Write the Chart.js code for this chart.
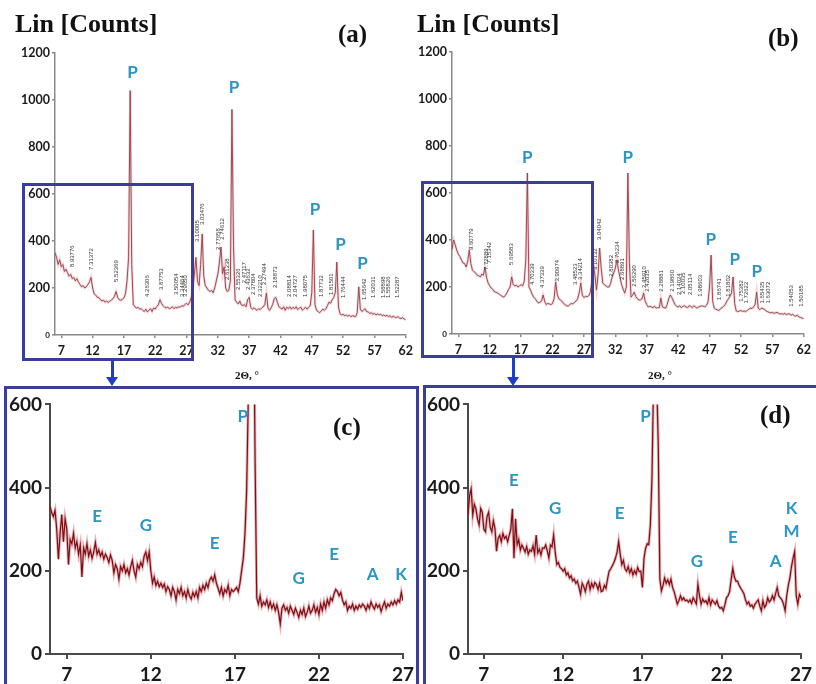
<!DOCTYPE html>
<html>
<head>
<meta charset="utf-8">
<script src="https://cdn.jsdelivr.net/npm/chart.js@4.4.1/dist/chart.umd.min.js"></script>
<style>
  body{margin:0;background:#fff;width:816px;height:684px;overflow:hidden;position:relative}
  canvas{position:absolute}
  .t{position:absolute;font-family:"Liberation Serif",serif;font-weight:bold;color:#111;white-space:nowrap;line-height:1}
  .frame{position:absolute;border:3px solid #3a3d9c;box-sizing:border-box}
  .stem{position:absolute;width:3px;background:#1f3cc4}
  .head{position:absolute;width:0;height:0;border-left:6px solid transparent;border-right:6px solid transparent;border-top:9px solid #1f3cc4}
</style>
</head>
<body>
<canvas id="chartA" width="418" height="384" style="left:0;top:0"></canvas>
<canvas id="chartB" width="416" height="384" style="left:400px;top:0"></canvas>
<canvas id="chartC" width="410" height="294" style="left:8px;top:390px"></canvas>
<canvas id="chartD" width="392" height="294" style="left:424px;top:390px"></canvas>

<div class="t" style="left:15px;top:11px;font-size:26px">Lin [Counts]</div>
<div class="t" style="left:417px;top:11px;font-size:26px">Lin [Counts]</div>
<div class="t" style="left:338px;top:21px;font-size:25px">(a)</div>
<div class="t" style="left:768px;top:25px;font-size:25px">(b)</div>
<div class="t" style="left:333px;top:414px;font-size:25px">(c)</div>
<div class="t" style="left:760px;top:402px;font-size:25px">(d)</div>
<div class="t" style="left:247px;top:370px;font-size:11px;transform:translateX(-50%)">2Θ, °</div>
<div class="t" style="left:660px;top:370px;font-size:11px;transform:translateX(-50%)">2Θ, °</div>

<div class="frame" style="left:22px;top:183px;width:172px;height:178px"></div>
<div class="frame" style="left:421px;top:181px;width:173px;height:177px"></div>
<div class="stem" style="left:111px;top:361px;height:17px"></div>
<div class="head" style="left:106px;top:377px"></div>
<div class="stem" style="left:512px;top:358px;height:20px"></div>
<div class="head" style="left:507px;top:377px"></div>
<div class="frame" style="left:4px;top:386px;width:415px;height:320px"></div>
<div class="frame" style="left:423px;top:385px;width:410px;height:320px"></div>

<script>
// ---- DATOS ----
// patrones (a) y (b): 2theta de 6 a 62, paso 0.25
const startAB = 6;
const stepAB = 0.25;
const countsA = [
  350,330,300,320,290,300,270,280,   // 6
  265,250,258,240,245,230,240,225,   // 8
  215,205,210,200,205,215,225,245,   // 10
  200,175,170,160,160,150,145,148,   // 12
  140,145,138,145,148,155,165,185,   // 14
  160,150,148,152,158,175,230,330,   // 16
  1040,300,130,120,115,118,110,112,  // 18
  105,100,110,98,105,112,100,115,    // 20
  110,122,128,150,135,125,118,115,   // 22
  118,112,115,120,112,118,115,120,   // 24
  118,125,122,130,135,128,140,160,   // 26
  190,260,330,230,210,300,430,250,   // 28
  210,200,190,185,190,180,200,230,   // 30
  260,310,375,260,290,200,185,190,   // 32
  230,960,380,150,140,132,145,128,   // 34
  125,130,120,150,160,118,110,115,   // 36
  110,105,112,108,115,120,130,178,   // 38
  115,105,115,130,155,160,140,120,   // 40
  115,110,120,105,118,112,120,110,   // 42
  118,112,120,108,115,118,105,112,   // 44
  118,110,118,125,180,447,130,105,   // 46
  100,95,102,110,105,112,125,140,    // 48
  135,150,160,180,310,120,90,85,     // 50
  88,82,85,80,84,78,82,80,           // 52
  78,95,205,110,100,105,112,100,     // 54
  98,92,95,88,92,85,90,86,           // 56
  88,82,85,80,84,78,82,75,           // 58
  80,76,74,78,72,70,74,68,           // 60
  65                                 // 62
];
const countsB = [
  360,400,380,357,340,330,315,302,   // 6
  300,285,310,357,300,272,265,260,   // 8
  250,248,243,255,250,285,240,217,   // 10
  205,195,190,180,178,174,170,165,   // 12
  160,157,165,175,190,200,243,210,   // 14
  205,208,200,205,210,204,225,315,   // 16
  685,200,187,170,157,150,140,132,   // 18
  135,140,166,140,125,130,128,125,   // 20
  130,150,221,170,150,145,140,130,   // 22
  125,120,119,125,130,128,135,140,   // 24
  150,175,217,165,155,160,158,162,   // 26
  175,220,302,250,187,250,366,280,   // 28
  217,210,205,200,200,215,243,260,   // 30
  280,315,272,240,210,190,174,200,   // 32
  685,300,157,165,178,160,150,145,   // 34
  145,150,174,140,125,115,118,115,   // 36
  112,118,110,112,112,153,115,112,   // 38
  110,125,150,166,155,140,125,118,   // 40
  115,120,112,118,120,115,112,120,   // 42
  118,112,120,115,110,115,118,120,   // 44
  118,115,122,135,200,336,140,110,   // 46
  105,103,100,108,112,118,125,140,   // 48
  150,160,175,243,130,98,95,98,      // 50
  100,96,98,95,100,105,110,108,      // 52
  115,125,178,110,103,110,108,105,   // 54
  98,95,92,90,92,88,90,92,           // 56
  88,85,86,84,88,82,86,85,           // 58
  80,84,78,76,80,72,70,68,           // 60
  65                                 // 62
];

// ampliaciones (c) y (d): 2theta de 6 a 27, paso 0.1
const startCD = 6;
const stepCD = 0.1;
const countsC = [
  355,340,330,345,300,228,290,335,270,325,   // 6
  300,215,275,265,290,255,270,240,262,185,   // 7
  255,240,265,235,250,230,245,268,240,250,   // 8
  235,245,228,240,232,220,238,225,195,215,   // 9
  205,180,210,200,215,195,205,190,210,225,   // 10
  200,185,215,205,220,210,235,245,225,245,   // 11
  200,170,185,165,175,162,170,160,168,150,   // 12
  162,155,140,160,150,130,155,145,160,140,   // 13
  150,135,155,140,132,148,138,150,135,160,   // 14
  150,165,155,170,160,178,185,175,190,170,   // 15
  158,145,160,140,155,148,165,140,155,150,   // 16
  155,160,150,170,200,230,290,395,620,900,   // 17
  1040,950,470,135,120,140,115,125,118,130,  // 18
  112,125,110,120,105,118,100,72,110,118,    // 19
  105,112,98,115,105,95,110,100,88,105,      // 20
  95,110,90,100,115,98,105,118,100,112,      // 21
  95,120,105,125,110,130,118,135,128,145,    // 22
  155,150,140,148,130,118,125,105,115,110,   // 23
  120,105,115,108,118,112,120,115,105,118,   // 24
  110,125,115,108,120,112,118,102,115,125,   // 25
  110,120,115,125,118,128,120,130,125,148,   // 26
  128                                        // 27
];
const countsD = [
  335,381,397,334,360,349,325,310,350,341,   // 6
  300,294,330,341,305,294,320,302,247,278,   // 7
  285,270,290,278,283,270,285,300,349,230,   // 8
  325,263,275,250,262,254,245,258,240,250,   // 9
  247,260,240,286,243,252,238,255,254,262,   // 10
  248,231,262,258,286,245,215,220,208,205,   // 11
  199,205,190,195,183,188,176,180,170,175,   // 12
  160,144,170,162,150,168,175,155,170,160,   // 13
  172,167,155,170,150,152,165,158,180,199,   // 14
  205,212,220,230,245,270,240,215,225,205,   // 15
  199,210,195,205,190,200,192,208,198,199,   // 16
  160,230,254,265,263,310,420,650,690,660,   // 17
  500,180,152,165,183,170,178,167,180,160,   // 18
  150,135,120,128,140,130,135,128,130,125,   // 19
  130,122,135,128,120,167,140,120,132,125,   // 20
  128,120,135,118,130,125,120,128,115,110,   // 21
  112,104,118,135,140,150,180,206,185,175,   // 22
  175,165,158,152,145,130,120,125,115,118,   // 23
  110,120,125,130,115,104,128,112,118,135,   // 24
  125,130,140,130,145,160,140,135,130,120,   // 25
  104,140,165,183,210,230,246,140,120,143,   // 26
  135                                        // 27
];

const xTicksAB = [7,12,17,22,27,32,37,42,47,52,57,62];
const yTicksAB = [0,200,400,600,800,1000,1200];
const xTicksCD = [7,12,17,22,27];
const yTicksCD = [0,200,400,600];

// etiquetas de fases [letra, 2theta, cuentas]
const fasesA = [['P',18.36,1119],['P',34.58,1051],['P',47.5,532],['P',51.6,383],['P',55.1,306]];
const fasesB = [['P',17.97,753],['P',34.0,753],['P',47.2,404],['P',51.0,317],['P',54.5,264]];
const fasesC = [['E',8.8,331],['G',11.7,310],['E',15.8,265],['P',17.47,570],['G',20.8,182],['E',22.9,239],['A',25.2,192],['K',26.88,192]];
const fasesD = [['E',8.9,417],['G',11.5,349],['E',15.57,337],['P',17.2,571],['G',20.44,223],['E',22.7,280],['A',25.4,223],['K',26.4,349],['M',26.4,294]];

// distancias d (texto vertical) [2theta, cuentas base, texto]
const dEspA = [
  [8.75,289,'8.93776'],[11.75,277,'7.31372'],[15.85,226,'5.52369'],[20.7,162,'4.26306'],
  [22.9,191,'3.87753'],[25.45,170,'3.50054'],[26.4,162,'3.34464'],[26.8,162,'3.29650'],
  [28.75,396,'3.10005'],[29.55,468,'3.03476'],[32.05,362,'2.77658'],[32.7,405,'2.74612'],
  [33.5,234,'2.61238'],[35.2,191,'2.55326'],[36.3,220,'2.47117'],[36.9,191,'2.43632'],
  [37.6,170,'2.37804'],[38.8,162,'2.32210'],[39.5,213,'2.27494'],[41.2,200,'2.18873'],
  [43.4,162,'2.08814'],[44.35,162,'2.04727'],[45.9,162,'1.98075'],[48.6,162,'1.87732'],
  [50.2,170,'1.81501'],[52.1,157,'1.76444'],[55.4,149,'1.65642'],[56.8,157,'1.62031'],
  [58.4,157,'1.58898'],[59.3,157,'1.55826'],[60.7,157,'1.52287']
];
const dEspB = [
  [9.0,357,'9.60779'],[11.45,272,'7.72889'],[12.0,300,'7.15342'],[15.5,294,'5.69583'],
  [18.8,208,'4.70339'],[20.4,196,'4.37339'],[22.7,223,'3.90974'],[25.6,208,'3.48523'],
  [26.4,230,'3.34214'],[28.8,272,'3.10132'],[29.4,400,'3.04042'],[31.3,244,'2.80382'],
  [32.35,302,'2.76234'],[33.1,230,'2.68891'],[35.1,201,'2.56290'],[36.55,196,'2.45910'],
  [37.1,180,'2.42035'],[39.4,180,'2.28881'],[41.0,180,'2.19860'],[42.2,166,'2.14024'],
  [42.85,170,'2.10035'],[44.0,166,'2.05114'],[45.6,159,'1.98603'],[48.5,145,'1.86741'],
  [50.05,159,'1.81802'],[52.0,137,'1.75382'],[52.9,130,'1.72622'],[55.45,130,'1.65435'],
  [56.35,130,'1.63072'],[60.0,116,'1.54053'],[61.6,116,'1.50185']
];

function puntos(start, step, vals) {
  return vals.map((v, i) => ({ x: +(start + i * step).toFixed(2), y: v }));
}

// dibuja letras de fase y textos d
const etiquetas = {
  id: 'etiquetas',
  afterDatasetsDraw(chart, args, opts) {
    const ctx = chart.ctx, sx = chart.scales.x, sy = chart.scales.y;
    ctx.save();
    ctx.fillStyle = '#333';
    ctx.font = '6px "Liberation Sans"';
    ctx.textBaseline = 'middle';
    (opts.dEsp || []).forEach(([x, y, txt]) => {
      ctx.save();
      ctx.translate(sx.getPixelForValue(x), sy.getPixelForValue(y));
      ctx.rotate(-Math.PI / 2);
      ctx.textAlign = 'left';
      ctx.fillText(txt, 0, 0);
      ctx.restore();
    });
    ctx.textAlign = 'center';
    ctx.fillStyle = '#2b95c3';
    ctx.font = 'bold 17px Lato';
    (opts.fases || []).forEach(([l, x, y]) => ctx.fillText(l, sx.getPixelForValue(x), sy.getPixelForValue(y)));
    ctx.restore();
  }
};

function xrd(id, o) {
  const pts = puntos(o.start, o.step, o.counts);
  return new Chart(document.getElementById(id), {
    type: 'line',
    data: {
      datasets: [
        { data: pts, borderColor: o.line, borderWidth: o.lineW, pointRadius: 0, order: 1 },
        { data: pts, borderColor: o.halo, borderWidth: o.haloW, pointRadius: 0, order: 2 }
      ]
    },
    options: {
      responsive: false,
      animation: false,
      events: [],
      layout: { autoPadding: false, padding: { top: o.top, right: o.right, left: 0, bottom: 0 } },
      plugins: {
        legend: { display: false },
        tooltip: { enabled: false },
        etiquetas: { fases: o.fases, dEsp: o.dEsp }
      },
      scales: {
        x: {
          type: 'linear', min: o.xMin, max: o.xMax,
          afterBuildTicks: s => { s.ticks = o.xTicks.map(v => ({ value: v })); },
          afterFit: s => { s.height = o.xH; },
          grid: { drawOnChartArea: false, drawTicks: true, tickLength: o.tick, color: o.axis, lineWidth: o.axisW },
          border: { color: o.axis, width: o.axisW },
          ticks: { autoSkip: false, maxRotation: 0, padding: o.xPad, color: '#1a1a1a',
                   callback: v => String(v),
                   font: { family: 'Lato', weight: 'bold', size: o.font } }
        },
        y: {
          min: 0, max: o.yMax,
          afterBuildTicks: s => { s.ticks = o.yTicks.map(v => ({ value: v })); },
          afterFit: s => { s.width = o.yW; },
          grid: { drawOnChartArea: false, drawTicks: true, tickLength: o.tick, color: o.axis, lineWidth: o.axisW },
          border: { color: o.axis, width: o.axisW },
          ticks: { padding: o.yPad, color: '#1a1a1a',
                   callback: v => String(v),
                   font: c => ({ family: 'Lato', weight: 'bold',
                                 size: (o.smallZero && c.tick && c.tick.value === 0) ? 8 : o.font }) }
        }
      }
    },
    plugins: [etiquetas]
  });
}

// (a)
xrd('chartA', { start: startAB, step: stepAB, counts: countsA, xMin: 6, xMax: 62, yMax: 1200,
  xTicks: xTicksAB, yTicks: yTicksAB, fases: fasesA, dEsp: dEspA,
  top: 53, right: 8, yW: 55, xH: 49, tick: 3, xPad: 5, yPad: 2, font: 12.5, smallZero: true,
  axis: '#8a8a8a', axisW: 1.5, line: '#9a3a44', lineW: 0.9, halo: 'rgba(210,140,150,0.35)', haloW: 2.6 });

// (b)
xrd('chartB', { start: startAB, step: stepAB, counts: countsB, xMin: 6, xMax: 62, yMax: 1200,
  xTicks: xTicksAB, yTicks: yTicksAB, fases: fasesB, dEsp: dEspB,
  top: 52, right: 8, yW: 52, xH: 50, tick: 3, xPad: 5, yPad: 2, font: 12.5, smallZero: true,
  axis: '#8a8a8a', axisW: 1.5, line: '#9a3a44', lineW: 0.9, halo: 'rgba(210,140,150,0.35)', haloW: 2.6 });

// (c)
xrd('chartC', { start: startCD, step: stepCD, counts: countsC, xMin: 6, xMax: 27, yMax: 600,
  xTicks: xTicksCD, yTicks: yTicksCD, fases: fasesC,
  top: 11, right: 11, yW: 42, xH: 30, tick: 5, xPad: 4, yPad: 3, font: 19,
  axis: '#4a4a4a', axisW: 2, line: '#7a1015', lineW: 1.2, halo: 'rgba(210,100,110,0.5)', haloW: 3 });

// (d)
xrd('chartD', { start: startCD, step: stepCD, counts: countsD, xMin: 6, xMax: 27, yMax: 600,
  xTicks: xTicksCD, yTicks: yTicksCD, fases: fasesD,
  top: 11, right: 8, yW: 44, xH: 30, tick: 5, xPad: 4, yPad: 3, font: 19,
  axis: '#4a4a4a', axisW: 2, line: '#7a1015', lineW: 1.2, halo: 'rgba(210,100,110,0.5)', haloW: 3 });
</script>
</body>
</html>
